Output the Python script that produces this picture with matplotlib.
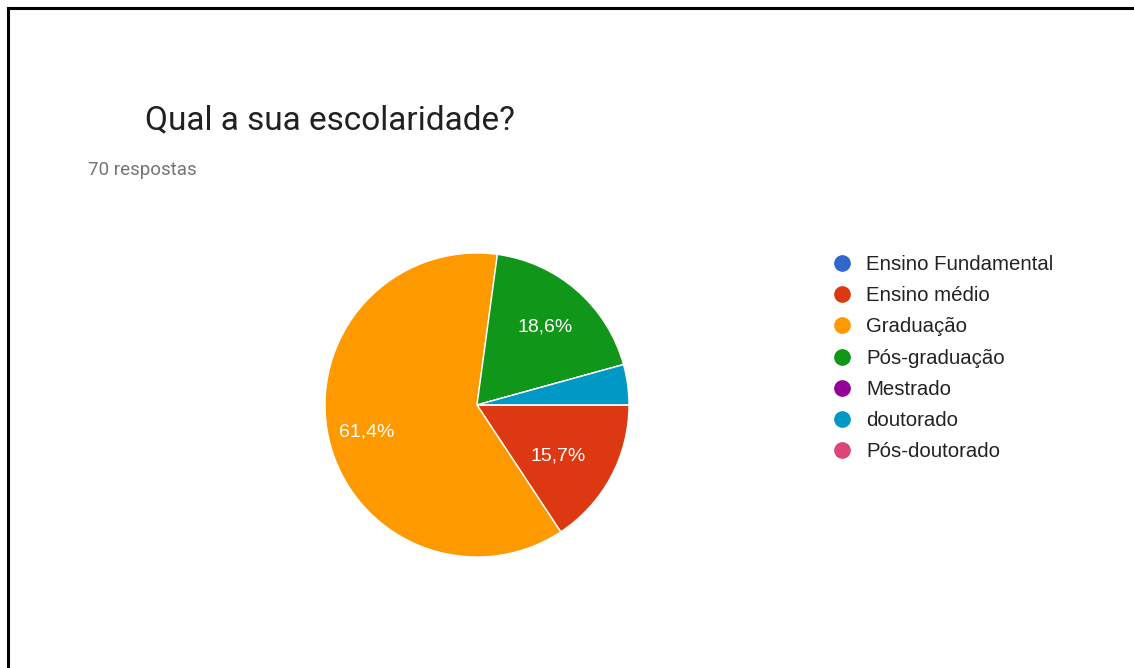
import numpy as np
import matplotlib
import matplotlib.pyplot as plt
from matplotlib.lines import Line2D

matplotlib.use("Agg")

# survey answers: "Qual a sua escolaridade?" (70 respostas)
categories = ["Ensino Fundamental", "Ensino médio", "Graduação", "Pós-graduação",
              "Mestrado", "doutorado", "Pós-doutorado"]
counts = [0, 11, 43, 13, 0, 3, 0]
colors = ["#3366cc", "#dc3912", "#ff9900", "#109618",
          "#990099", "#0099c6", "#dd4477"]
title = "Qual a sua escolaridade?"
subtitle = "70 respostas"

W, H = 1134, 668
fig = plt.figure(figsize=(W / 100, H / 100), dpi=100)
fig.patch.set_facecolor("white")


def px(x, y):
    # pixel position (from top-left) to figure fraction
    return x / W, 1 - y / H


# pie axes, centre (477, 405) and radius 152 px
cx, cy, r = 477, 405, 152
ax = fig.add_axes([(cx - r) / W, (H - cy - r) / H, 2 * r / W, 2 * r / H])


def pct_label(pct):
    if pct < 5:
        return ""
    return f"{pct:.1f}%".replace(".", ",")


wedges, texts, autotexts = ax.pie(
    counts, colors=colors, startangle=0, counterclock=False,
    autopct=pct_label, pctdistance=0.7,
    wedgeprops=dict(edgecolor="white", linewidth=1),
    textprops=dict(color="white", fontsize=14, family="Liberation Sans"))

# nudge the percentage labels (radius fraction, angle offset in degrees)
label_dist = [0.7, 0.63, 0.75, 0.68, 0.7, 0.7, 0.7]
label_turn = [0, -4, 1, 0, 0, 0, 0]
for w, t, d, da in zip(wedges, autotexts, label_dist, label_turn):
    mid = np.deg2rad((w.theta1 + w.theta2) / 2 + da)
    t.set_position((d * np.cos(mid), d * np.sin(mid)))

ax.set_aspect("equal")
ax.set_xlim(-1, 1)
ax.set_ylim(-1, 1)

# title block
fig.text(*px(145, 120), title, fontsize=24, family="Roboto", color="#212121",
         va="center", ha="left")
fig.text(*px(88, 170), subtitle, fontsize=13.5, family="Roboto", color="#757575",
         va="center", ha="left")

# legend with round markers
handles = [Line2D([], [], marker="o", linestyle="none", markersize=11,
                  markerfacecolor=c, markeredgecolor=c) for c in colors]
fig.legend(handles, categories, loc="upper left",
           bbox_to_anchor=px(833, 255), frameon=False,
           prop=dict(family="Liberation Sans", size=14.7),
           labelcolor="#222222", handlelength=0.9, handletextpad=0.72,
           borderpad=0, borderaxespad=0, labelspacing=0.6)

# black frame on the top and left edges
fig.add_artist(Line2D([8 / W, 8 / W], [0, 1 - 8 / H], color="black",
                      linewidth=2.2, transform=fig.transFigure))
fig.add_artist(Line2D([8 / W, 1], [1 - 8 / H, 1 - 8 / H], color="black",
                      linewidth=2.2, transform=fig.transFigure))

fig.savefig("out.png", dpi=100)
